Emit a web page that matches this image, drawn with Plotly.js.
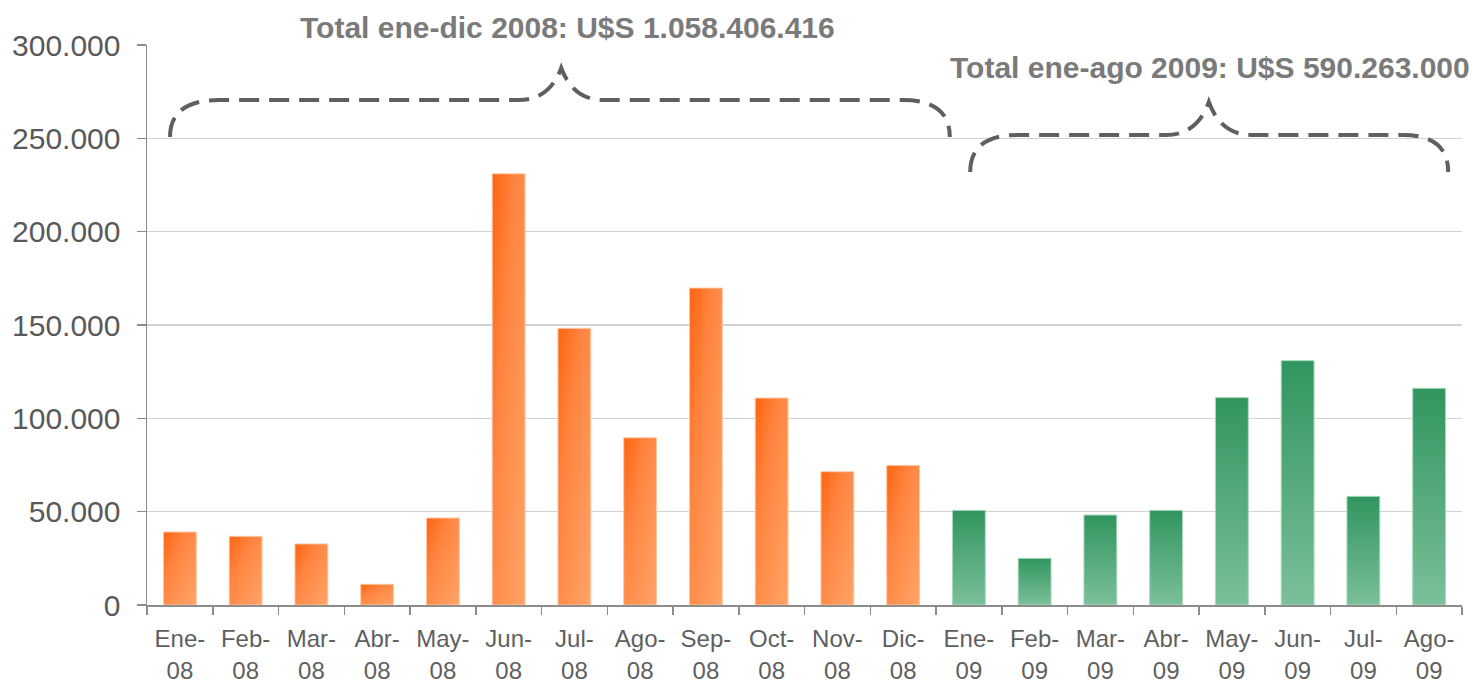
<!DOCTYPE html>
<html>
<head>
<meta charset="utf-8">
<script src="https://cdn.plot.ly/plotly-3.0.1.min.js"></script>
<style>
  html, body { margin: 0; padding: 0; background: #ffffff; }
  #chart { width: 1472px; height: 684px; }
</style>
</head>
<body>
<div id="chart"></div>
<script>
// ---- data ----
var months2008 = ["Ene", "Feb", "Mar", "Abr", "May", "Jun", "Jul", "Ago", "Sep", "Oct", "Nov", "Dic"];
var months2009 = ["Ene", "Feb", "Mar", "Abr", "May", "Jun", "Jul", "Ago"];
var values2008 = [39100, 36800, 32700, 11100, 46600, 231000, 148200, 89600, 169800, 110900, 71400, 74800];
var values2009 = [50700, 25000, 48200, 50700, 111100, 130900, 58200, 116100];
var totalText2008 = "Total ene-dic 2008: U$S 1.058.406.416";
var totalText2009 = "Total ene-ago 2009: U$S 590.263.000";

var cats2008 = months2008.map(function (m) { return m + "-08"; });
var cats2009 = months2009.map(function (m) { return m + "-09"; });
var allCats = cats2008.concat(cats2009);
var tickText = allCats.map(function (c) { return c.replace("-", "-<br>"); });

var trace2008 = {
  type: "bar",
  x: cats2008,
  y: values2008,
  marker: { color: "#FF8C48", line: { color: "#FFC9A6", width: 1 } },
  hoverinfo: "x+y",
  showlegend: false
};
var trace2009 = {
  type: "bar",
  x: cats2009,
  y: values2009,
  marker: { color: "#52A87A", line: { color: "#A9D9BD", width: 1 } },
  hoverinfo: "x+y",
  showlegend: false
};

var braceStyle = { color: "#5f5f5f", width: 4, dash: "20px,10px" };

var layout = {
  width: 1472,
  height: 684,
  margin: { l: 147, r: 10, t: 45, b: 79 },
  paper_bgcolor: "#ffffff",
  plot_bgcolor: "#ffffff",
  separators: ",.",
  barmode: "overlay",
  bargap: 0.5,
  font: { family: "Liberation Sans, Arial, sans-serif", color: "#595959" },
  xaxis: {
    type: "category",
    categoryorder: "array",
    categoryarray: allCats,
    range: [-0.5, allCats.length - 0.5],
    autorange: false,
    tickvals: allCats,
    ticktext: tickText,
    tickson: "boundaries",
    ticks: "outside",
    ticklen: 8,
    tickcolor: "#8c8c8c",
    tickwidth: 1.5,
    showline: true,
    linecolor: "#8c8c8c",
    linewidth: 1.5,
    showgrid: false,
    zeroline: false,
    ticklabelstandoff: 12,
    tickfont: { size: 24, color: "#5f5f5f" },
    fixedrange: true
  },
  yaxis: {
    range: [0, 300000],
    autorange: false,
    dtick: 50000,
    tick0: 0,
    tickformat: ",d",
    ticks: "outside",
    ticklen: 9,
    tickcolor: "#8c8c8c",
    tickwidth: 1.5,
    showline: true,
    linecolor: "#8c8c8c",
    linewidth: 1.5,
    showgrid: true,
    gridcolor: "#d2d2d2",
    gridwidth: 1.5,
    zeroline: false,
    ticklabelstandoff: 10,
    tickfont: { size: 30, color: "#595959" },
    fixedrange: true
  },
  shapes: [
    {
      type: "path", xref: "x", yref: "y", layer: "above",
      path: "M -0.15,250700 Q -0.15,270500 0.6,270500 L 5.15,270500 Q 5.62,270500 5.8,287700 " +
            "Q 5.98,270500 6.45,270500 L 11.0,270500 Q 11.71,270500 11.71,250700",
      line: braceStyle
    },
    {
      type: "path", xref: "x", yref: "y", layer: "above",
      path: "M 12.02,232000 Q 12.02,251800 12.75,251800 L 15.0,251800 Q 15.47,251800 15.65,269500 " +
            "Q 15.83,251800 16.3,251800 L 18.6,251800 Q 19.29,251800 19.29,232000",
      line: braceStyle
    }
  ],
  annotations: [
    {
      xref: "paper", yref: "paper", x: 0.3198, y: 1.0304, xanchor: "center", yanchor: "middle",
      text: "<b>" + totalText2008 + "</b>", showarrow: false,
      font: { size: 30, color: "#7a7a7a", family: "Liberation Sans, Arial, sans-serif" }
    },
    {
      xref: "paper", yref: "paper", x: 0.8084, y: 0.9607, xanchor: "center", yanchor: "middle",
      text: "<b>" + totalText2009 + "</b>", showarrow: false,
      font: { size: 30, color: "#7a7a7a", family: "Liberation Sans, Arial, sans-serif" }
    }
  ]
};

function addGradient(defs, id, x2, y2, stops) {
  var ns = "http://www.w3.org/2000/svg";
  var g = document.createElementNS(ns, "linearGradient");
  g.setAttribute("id", id);
  g.setAttribute("x1", "0"); g.setAttribute("y1", "0");
  g.setAttribute("x2", x2); g.setAttribute("y2", y2);
  stops.forEach(function (s) {
    var st = document.createElementNS(ns, "stop");
    st.setAttribute("offset", s[0]);
    st.setAttribute("stop-color", s[1]);
    g.appendChild(st);
  });
  defs.appendChild(g);
}

Plotly.newPlot("chart", [trace2008, trace2009], layout, { displayModeBar: false, staticPlot: true })
  .then(function (gd) {
    var svg = gd.querySelector(".main-svg");
    var defs = svg.querySelector("defs");
    addGradient(defs, "gradOrange", "1", "1", [["0", "#FF6410"], ["0.35", "#FF843F"], ["1", "#FFA468"]]);
    addGradient(defs, "gradGreen", "0", "1", [["0", "#31955F"], ["1", "#7BC09A"]]);
    var traces = gd.querySelectorAll(".barlayer .trace");
    var ids = ["gradOrange", "gradGreen"];
    traces.forEach(function (t, i) {
      t.querySelectorAll(".point path").forEach(function (p) {
        p.style.fill = "url(#" + ids[i] + ")";
      });
    });
  });
</script>
</body>
</html>
